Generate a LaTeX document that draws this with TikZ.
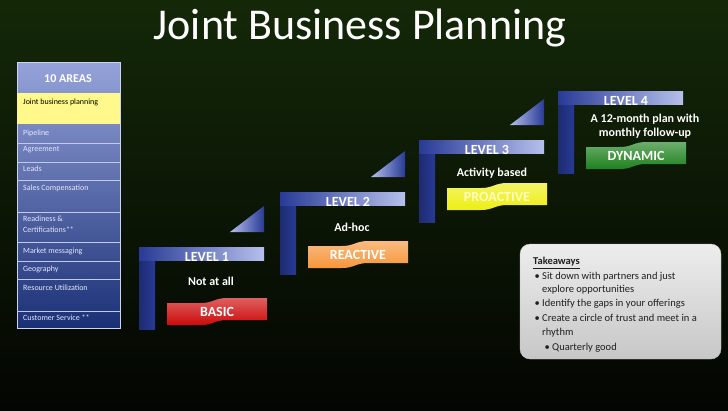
\documentclass[tikz,border=0pt]{standalone}
\usepackage{fontspec}
\setmainfont{Carlito}

\definecolor{bgtop}{RGB}{20,40,8}
\definecolor{bgbot}{RGB}{3,5,2}
\definecolor{bardark}{RGB}{40,58,150}
\definecolor{barlight}{RGB}{182,192,236}
\definecolor{panetop}{RGB}{150,163,218}
\definecolor{panemid}{RGB}{62,90,172}
\definecolor{panebot}{RGB}{26,48,118}
\definecolor{basic}{RGB}{205,10,10}
\definecolor{reactive}{RGB}{247,150,60}
\definecolor{proactive}{RGB}{238,238,20}
\definecolor{dynamic}{RGB}{30,130,30}

\begin{document}
\begin{tikzpicture}[x=1pt, y=-1pt,
  every area/.style={anchor=west, inner sep=0pt, text=white!90!blue, font=\fontsize{8}{9.5}\selectfont},
  level text/.style={text=white, font=\bfseries\fontsize{14}{16}\selectfont},
  desc text/.style={text=white, align=center, font=\bfseries\fontsize{12}{14}\selectfont},
  take/.style={anchor=west, inner sep=0pt, text height=1.6ex, text depth=.4ex, font=\fontsize{10.5}{12}\selectfont, text=black!88}]

\useasboundingbox (0,0) rectangle (728,410);
\shade[top color=bgtop, middle color=bgtop!85!black, bottom color=bgbot] (0,0) rectangle (728,410);

\node[anchor=base, text=white, font=\fontsize{44}{50}\selectfont] (title) at (360,39) {Joint Business Planning};

% the ten areas
\shade[top color=panetop, middle color=panemid, bottom color=panebot, draw=barlight!70] (17,62) rectangle (120,328);
\node[text=white, font=\bfseries\fontsize{12}{14}\selectfont] (areas) at (68,79) {10 AREAS};
\fill[yellow!45!white] (17,93) rectangle (120,124);
\node[every area, text=black] (area-1) at (23,102) {Joint business planning};

\foreach \y in {143,162,180,212,242,261,279,311}
  \draw[barlight!85, line width=1pt] (17,\y) -- (120,\y);

\foreach \y/\t [count=\i from 2] in {133/Pipeline, 150/Agreement, 169/Leads, 188/Sales Compensation,
    219/Readiness \&, 230/Certifications**, 251/Market messaging, 269/Geography,
    288/Resource Utilization, 318/Customer Service **}
  \node[every area] (area-\i) at (23,\y) {\t};

% the four levels
\foreach \n/\x/\y/\b/\name/\desc/\col/\ink in {
    1/139/247/51/BASIC/Not at all/basic/white,
    2/280/192/49/REACTIVE/Ad-hoc/reactive/white,
    3/419/140/43/PROACTIVE/Activity based/proactive/yellow!25!white,
    4/558/91/51/DYNAMIC/{A 12-month plan with\\monthly follow-up}/dynamic/white} {
  \shade[left color=bardark!75!black, right color=bardark] (\x,\y) rectangle (\x+16,\y+82);
  \shade[left color=bardark, right color=barlight] (\x,\y) rectangle (\x+125,\y+13);
  \ifnum\n<4
    \shade[left color=barlight, right color=bardark] (\x+91,\y-15) -- (\x+125,\y-15) -- (\x+125,\y-41) -- cycle;
  \fi
  \node[level text] (level-\n) at (\x+68,\y+10) {LEVEL \n};
  \shade[top color=\col!65!white, bottom color=\col]
    (\x+28,\y+\b+5) -- (\x+62,\y+\b+5) .. controls (\x+74,\y+\b+5) and (\x+76,\y+\b) .. (\x+88,\y+\b)
    -- (\x+128,\y+\b) -- (\x+128,\y+\b+22) -- (\x+88,\y+\b+22)
    .. controls (\x+76,\y+\b+22) and (\x+74,\y+\b+27) .. (\x+62,\y+\b+27) -- (\x+28,\y+\b+27) -- cycle;
  \node[level text, text=\ink] (band-\n) at (\x+78,\y+\b+14) {\name};
}

\node[desc text] (desc-1) at (211,281) {Not at all};
\node[desc text] (desc-2) at (352,227) {Ad-hoc};
\node[desc text] (desc-3) at (492,173) {Activity based};
\node[desc text] (desc-4) at (645,126) {A 12-month plan with\\monthly follow-up};

% takeaways
\shade[rounded corners=10pt, top color=white!93!black, bottom color=black!22, draw=black!25] (520,244) rectangle (721,359);
\node[take, font=\bfseries\fontsize{10.5}{12}\selectfont] (take-head) at (533,262) {\underline{Takeaways}};

\foreach \y/\t [count=\i] in {277/Sit down with partners and just, 290/explore opportunities,
    304/Identify the gaps in your offerings, 319/Create a circle of trust and meet in a, 333/rhythm}
  \node[take] (take-\i) at (542,\y) {\t};
\node[take] (take-6) at (552,348) {Quarterly good};

\foreach \i in {1,3,4}
  \node[take, anchor=east] (dot-\i) at ([xshift=-2pt]take-\i.west) {\textbullet};
\node[take, anchor=east] (dot-6) at ([xshift=-2pt]take-6.west) {\textbullet};

\end{tikzpicture}
\end{document}
